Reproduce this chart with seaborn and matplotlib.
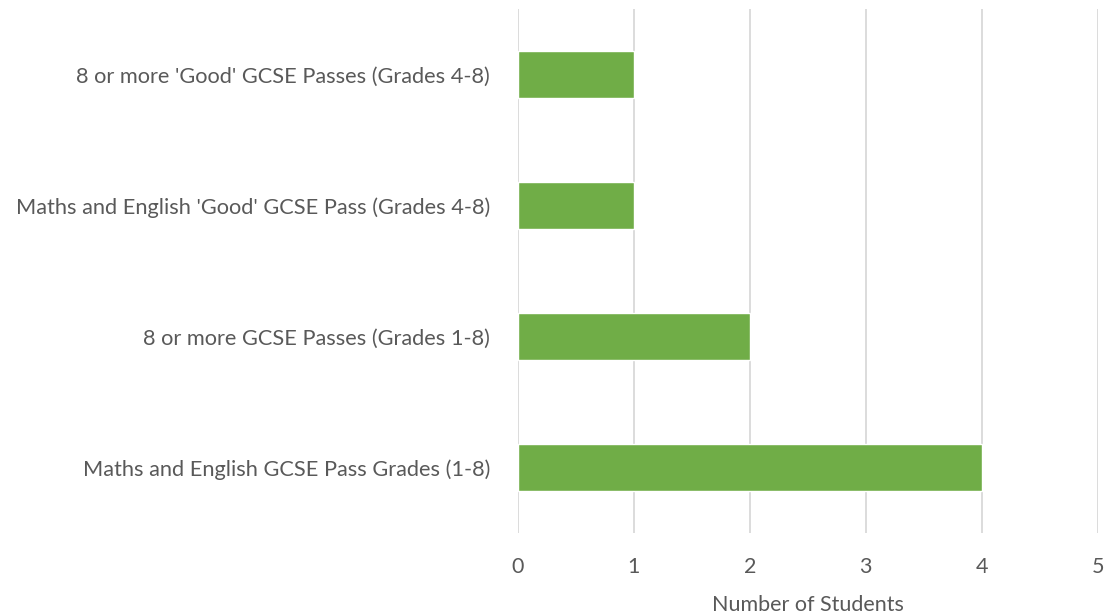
import matplotlib
matplotlib.use("Agg")
import matplotlib.pyplot as plt
import pandas as pd
import seaborn as sns

categories = [
    "8 or more 'Good' GCSE Passes (Grades 4-8)",
    "Maths and English 'Good' GCSE Pass (Grades 4-8)",
    "8 or more GCSE Passes (Grades 1-8)",
    "Maths and English GCSE Pass Grades (1-8)",
]
students = [1, 1, 2, 4]
x_ticks = [0, 1, 2, 3, 4, 5]

sns.set_theme(style="white")
plt.rcParams["font.family"] = ["Lato", "DejaVu Sans"]

df = pd.DataFrame({"category": categories, "students": students})

fig = plt.figure(figsize=(11.14, 6.15), dpi=100)
ax = fig.add_axes([0.4647, 0.1333, 0.5207, 0.8521])

sns.barplot(data=df, x="students", y="category", orient="h",
            color="#70AD47", saturation=1, width=0.36, ax=ax)

ax.set_xlim(0, 5)
ax.set_xticks(x_ticks)
ax.xaxis.grid(True, color="#D9D9D9", linewidth=1.3)
ax.set_axisbelow(True)
for s in ax.spines.values():
    s.set_visible(False)

ax.tick_params(axis="x", length=0, pad=17, labelsize=15.5, labelcolor="#595959")
ax.tick_params(axis="y", length=0, pad=20, labelsize=15.7, labelcolor="#595959")
ax.set_ylabel("")
ax.set_xlabel("Number of Students", fontsize=15.5, color="#595959", labelpad=13)

fig.savefig("out.png", dpi=100)
